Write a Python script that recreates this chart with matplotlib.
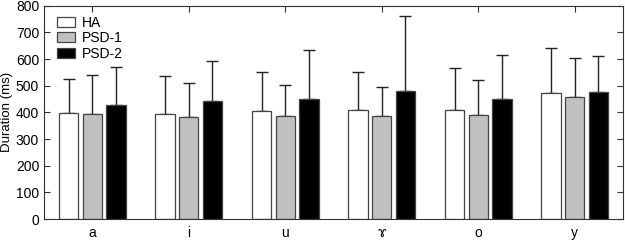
import matplotlib
matplotlib.use("Agg")
from matplotlib import pyplot as plt
import numpy as np

plt.rcParams['font.family'] = ['Liberation Sans', 'DejaVu Sans']

# vowels and mean durations (ms) with SD
vowels = ["a", "i", "u", "ɤ", "o", "y"]
groups = ["HA", "PSD-1", "PSD-2"]
ha = [397, 393, 404, 408, 410, 471]
psd1 = [395, 382, 386, 387, 392, 456]
psd2 = [427, 444, 451, 480, 450, 478]
ha_top = [527, 536, 553, 550, 568, 642]
psd1_top = [542, 511, 501, 496, 520, 603]
psd2_top = [572, 592, 635, 760, 617, 613]

colors = ["white", "#c0c0c0", "black"]

fig = plt.figure(figsize=(6.25, 2.41), dpi=100)
ax = fig.add_axes([0.0704, 0.091, 0.9264, 0.885])

x = np.arange(len(vowels))
w = 0.2
off = 0.245
for i, (vals, tops) in enumerate([(ha, ha_top), (psd1, psd1_top), (psd2, psd2_top)]):
    vals = np.array(vals)
    err = np.array(tops) - vals
    ax.bar(x + (i - 1) * off, vals, w, color=colors[i], edgecolor="#444444",
           linewidth=0.9, label=groups[i], zorder=2,
           yerr=[np.zeros_like(err), err], capsize=4,
           error_kw=dict(ecolor="#222222", elinewidth=1, capthick=1, zorder=1))

ax.set_xlim(-0.5, 5.5)
ax.set_ylim(0, 800)
ax.set_yticks(range(0, 801, 100))
ax.set_xticks(x)
ax.set_xticklabels(vowels)
ax.set_ylabel("Duration (ms)", fontsize=9.5)
ax.yaxis.set_label_coords(-0.053, 0.5)
ax.tick_params(direction="in", labelsize=10, top=True, right=True,
               length=4, color="#333333", width=0.8)
ax.tick_params(axis="x", pad=5)
for s in ax.spines.values():
    s.set_color("#333333")
    s.set_linewidth(0.8)

ax.legend(loc="upper left", frameon=False, fontsize=10, handlelength=1.3,
          handleheight=0.7, handletextpad=0.5, labelspacing=0.12,
          borderaxespad=0.3, bbox_to_anchor=(0.005, 1.0))

plt.savefig("out.png", dpi=100)
